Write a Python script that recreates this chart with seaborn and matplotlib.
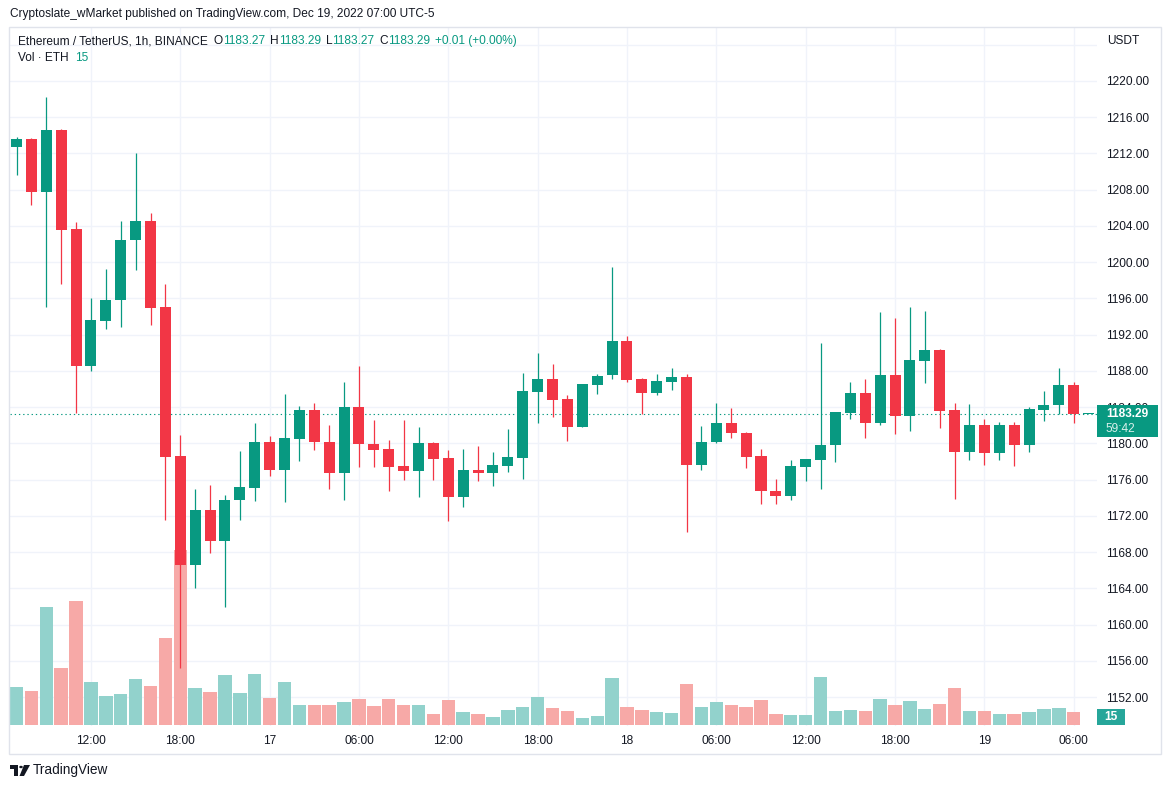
import numpy as np
import pandas as pd
import matplotlib
matplotlib.use('Agg')
import matplotlib.pyplot as plt
import seaborn as sns
from matplotlib.patches import Rectangle, Polygon, Circle

sns.set_style('white')
plt.rcParams['font.family'] = ['Liberation Sans', 'DejaVu Sans']

# ETH/USDT 1h candles, Dec 16 07:00 -> Dec 19 07:00 (UTC-5)
opens = [1212.75, 1213.6, 1207.8, 1214.6, 1203.7, 1188.5, 1193.5, 1195.8, 1202.4, 1204.5,
         1195.0, 1178.6, 1166.6, 1172.6, 1169.2, 1173.7, 1175.1, 1180.1, 1177.1, 1180.5,
         1183.7, 1180.2, 1176.7, 1184.0, 1179.9, 1179.4, 1177.5, 1177.0, 1180.0, 1178.4,
         1174.1, 1177.1, 1176.7, 1177.5, 1178.4, 1185.7, 1187.1, 1184.9, 1181.8, 1186.5,
         1187.5, 1191.3, 1187.1, 1185.6, 1186.8, 1187.3, 1177.6, 1180.1, 1182.2, 1181.1,
         1178.6, 1174.7, 1174.2, 1177.4, 1178.2, 1179.8, 1183.4, 1185.6, 1182.3, 1187.5,
         1183.0, 1189.1, 1190.3, 1183.7, 1179.1, 1182.0, 1178.9, 1182.0, 1179.8, 1183.7,
         1184.2, 1186.4, 1183.27]
highs = [1213.8, 1213.7, 1218.2, 1214.7, 1204.4, 1196.0, 1199.2, 1204.5, 1212.0, 1205.4,
         1197.6, 1180.9, 1175.0, 1175.4, 1174.3, 1179.2, 1182.2, 1180.8, 1185.4, 1184.1,
         1184.5, 1182.0, 1186.8, 1188.5, 1182.6, 1180.4, 1182.6, 1181.8, 1180.1, 1179.3,
         1179.4, 1179.7, 1179.0, 1181.6, 1187.8, 1190.0, 1188.8, 1185.3, 1186.6, 1187.7,
         1199.5, 1191.9, 1187.2, 1187.7, 1188.3, 1187.7, 1181.9, 1184.5, 1183.9, 1181.3,
         1179.4, 1176.1, 1178.2, 1178.3, 1191.1, 1183.5, 1186.8, 1187.1, 1194.5, 1193.8,
         1195.0, 1194.6, 1190.4, 1184.5, 1184.3, 1182.7, 1182.4, 1182.4, 1184.0, 1185.8,
         1188.3, 1186.8, 1183.29]
lows = [1209.6, 1206.3, 1195.1, 1197.6, 1183.4, 1188.0, 1192.6, 1192.8, 1199.1, 1193.1,
        1171.5, 1155.2, 1164.0, 1167.9, 1161.9, 1171.6, 1173.6, 1176.4, 1173.5, 1178.1,
        1179.3, 1175.0, 1173.8, 1177.4, 1177.4, 1174.8, 1176.0, 1174.1, 1176.0, 1171.4,
        1173.0, 1175.9, 1175.3, 1176.8, 1176.1, 1182.2, 1182.9, 1180.3, 1181.8, 1185.5,
        1187.1, 1186.8, 1183.2, 1185.3, 1185.9, 1170.2, 1177.1, 1180.0, 1180.6, 1177.3,
        1173.3, 1173.3, 1173.7, 1175.8, 1175.0, 1178.0, 1182.7, 1180.6, 1182.0, 1181.0,
        1181.4, 1186.7, 1181.7, 1173.9, 1178.2, 1177.6, 1178.2, 1177.5, 1179.1, 1182.5,
        1183.2, 1182.3, 1183.27]
closes = [1213.6, 1207.8, 1214.6, 1203.5, 1188.5, 1193.6, 1195.8, 1202.4, 1204.5, 1194.9,
          1178.5, 1166.6, 1172.6, 1169.2, 1173.8, 1175.2, 1180.1, 1177.1, 1180.6, 1183.7,
          1180.1, 1176.7, 1184.0, 1179.9, 1179.3, 1177.4, 1177.0, 1180.0, 1178.3, 1174.1,
          1177.1, 1176.7, 1177.6, 1178.5, 1185.8, 1187.1, 1184.8, 1181.8, 1186.6, 1187.4,
          1191.3, 1187.0, 1185.6, 1186.9, 1187.3, 1177.6, 1180.1, 1182.2, 1181.1, 1178.5,
          1174.7, 1174.2, 1177.5, 1178.3, 1179.8, 1183.5, 1185.6, 1182.3, 1187.5, 1183.0,
          1189.2, 1190.3, 1183.6, 1179.1, 1182.0, 1178.9, 1182.0, 1179.8, 1183.8, 1184.2,
          1186.4, 1183.27, 1183.29]
volumes = [11400, 10200, 35400, 17100, 37200, 12900, 8700, 9300, 13800, 11700,
           26100, 52500, 11100, 9900, 15000, 9600, 15300, 8100, 12900, 6000,
           6000, 6000, 6900, 7800, 5700, 7800, 6000, 6000, 3300, 7500,
           3900, 3300, 2400, 4500, 5400, 8400, 5100, 4200, 2100, 2700,
           14100, 5400, 4500, 3900, 3600, 12300, 5400, 6900, 6000, 5400,
           7500, 3300, 3000, 3000, 14400, 4200, 4500, 4200, 7800, 6000,
           7200, 4800, 6300, 11100, 4200, 4200, 3300, 3300, 3900, 4800,
           5100, 3900, 15]

time_tick_idx = [5, 11, 17, 23, 29, 35, 41, 47, 53, 59, 65, 71]
time_tick_labels = ['12:00', '18:00', '17', '06:00', '12:00', '18:00', '18',
                    '06:00', '12:00', '18:00', '19', '06:00']
price_ticks = list(range(1152, 1221, 4))
last_price = 1183.29

UP, DOWN = '#089981', '#f23645'
VOL_UP, VOL_DOWN = '#92d2cc', '#f7a9a7'
TXT = '#131722'
GRID = '#f0f3fa'

W, H = 1171, 788
fig = plt.figure(figsize=(W / 100, H / 100), dpi=100)
fig.patch.set_facecolor('white')

def P(x, y):
    return (x / W, 1 - y / H)

# plot area in pixels
L, R, T, B = 10, 1097, 27, 726
rect = [L / W, 1 - B / H, (R - L) / W, (B - T) / H]
axv = fig.add_axes(rect)
ax = fig.add_axes(rect, sharex=axv)
ax.patch.set_visible(False)

n = len(opens)
df = pd.DataFrame({'idx': np.arange(n), 'open': opens, 'high': highs,
                   'low': lows, 'close': closes, 'vol': volumes})
df['dir'] = np.where(df['close'] >= df['open'], 'up', 'down')

x0, dx = 16.5, 14.89
xlim = ((L - x0) / dx, (R - x0) / dx)
ytop = 1220 + (81 - T) / 9.06
ybot = 1220 - (B - 81) / 9.06
vlo, vhi = -300, 300 * (B - T) - 300

# volume (background pane)
sns.barplot(data=df, x='idx', y='vol', hue='dir',
            palette={'up': VOL_UP, 'down': VOL_DOWN}, native_scale=True,
            width=0.9, dodge=False, legend=False, saturation=1,
            errorbar=None, linewidth=0, ax=axv)
axv.set_ylim(vlo, vhi)

# grid
for p in price_ticks + [1224]:
    f = (p - ybot) / (ytop - ybot)
    axv.axhline(vlo + f * (vhi - vlo), color=GRID, lw=1, zorder=0)
for i in time_tick_idx:
    axv.axvline(i, color=GRID, lw=1, zorder=0)

# candles
cols = np.where(df['dir'] == 'up', UP, DOWN)
ax.vlines(df['idx'], df['low'], df['high'], colors=cols, lw=0.9, zorder=3)
body_lo = np.minimum(df['open'], df['close'])
body_h = np.maximum(np.abs(df['close'] - df['open']), 0.12)
ax.bar(df['idx'], body_h, bottom=body_lo, width=0.74, color=cols, lw=0, zorder=4)

ax.axhline(last_price, color=UP, lw=0.8, ls=(0, (1.2, 2.6)), zorder=2)

ax.set_xlim(*xlim)
ax.set_ylim(ybot, ytop)

for a in (ax, axv):
    for s in a.spines.values():
        s.set_visible(False)
    a.set_xlabel('')
    a.set_ylabel('')

axv.set_yticks([])
axv.set_xticks(time_tick_idx)
axv.set_xticklabels(time_tick_labels)
axv.tick_params(axis='x', length=0, pad=6.5, labelsize=8.6, labelcolor=TXT)
ax.tick_params(axis='x', bottom=False, labelbottom=False)

ax.yaxis.tick_right()
ax.set_yticks(price_ticks)
ax.set_yticklabels([f'{v:.2f}' for v in price_ticks])
ax.tick_params(axis='y', length=0, pad=6.5, labelsize=8.6, labelcolor=TXT)

# frame
fig.add_artist(Rectangle(P(9, 754), (1161 - 9) / W, (754 - 27) / H,
                         transform=fig.transFigure, fill=False,
                         edgecolor='#e0e3eb', lw=1))

# titles / legend
fig.text(*P(10, 14), 'Cryptoslate_wMarket published on TradingView.com, Dec 19, 2022 07:00 UTC-5',
         color=TXT, fontsize=8.6, va='center', ha='left')

renderer = fig.canvas.get_renderer()

def chain(x, y, parts, size=8.6):
    for s, c, gap in parts:
        t = fig.text(*P(x, y), s, color=c, fontsize=size, va='center', ha='left')
        x += t.get_window_extent(renderer=renderer).width + gap

chain(18, 41, [('Ethereum / TetherUS, 1h, BINANCE', TXT, 6),
               ('O', TXT, 0), ('1183.27', UP, 5),
               ('H', TXT, 0), ('1183.29', UP, 5),
               ('L', TXT, 0), ('1183.27', UP, 5),
               ('C', TXT, 0), ('1183.29', UP, 5),
               ('+0.01 (+0.00%)', UP, 0)])
chain(18, 58, [('Vol \u00b7 ETH', TXT, 6), ('15', UP, 0)])
fig.text(*P(1107, 41), 'USDT', color=TXT, fontsize=8.6, va='center', ha='left')

# last price label
fig.add_artist(Rectangle(P(1097, 437), 61 / W, 32 / H, transform=fig.transFigure,
                         facecolor=UP, edgecolor='none'))
fig.text(*P(1106, 414), f'{last_price:.2f}', color='white', fontsize=8.6,
         fontweight='bold', va='center', ha='left')
fig.text(*P(1106, 429), '59:42', color='#d8f0eb', fontsize=8.6, va='center', ha='left')

# last volume label
fig.add_artist(Rectangle(P(1097, 725), 28 / W, 16 / H, transform=fig.transFigure,
                         facecolor='#26a69a', edgecolor='none'))
fig.text(*P(1111, 717), f'{volumes[-1]}', color='white', fontsize=8.6,
         fontweight='bold', va='center', ha='center')

# TradingView footer
fig.add_artist(Rectangle(P(10, 769), 8 / W, 4 / H, transform=fig.transFigure,
                         facecolor=TXT, edgecolor='none'))
fig.add_artist(Rectangle(P(14, 776), 4 / W, 11 / H, transform=fig.transFigure,
                         facecolor=TXT, edgecolor='none'))
fig.add_artist(Circle(P(21, 767), 1.8 / W, transform=fig.transFigure,
                      facecolor=TXT, edgecolor='none'))
fig.add_artist(Polygon([P(24, 765), P(30, 765), P(24, 776), P(19.5, 776)],
                       closed=True, transform=fig.transFigure,
                       facecolor=TXT, edgecolor='none'))
fig.text(*P(33, 770), 'TradingView', color=TXT, fontsize=9.8, va='center', ha='left')

fig.savefig('out.png', dpi=100)
